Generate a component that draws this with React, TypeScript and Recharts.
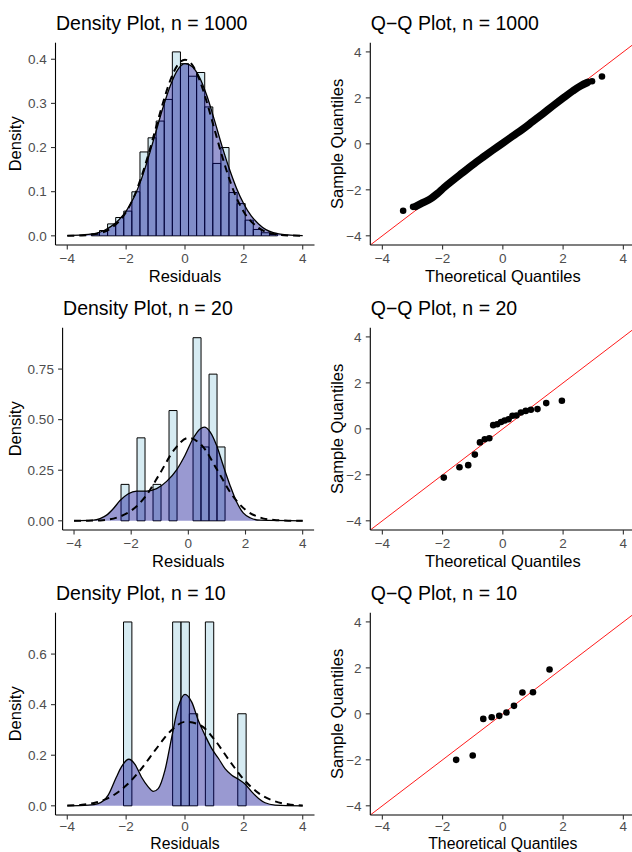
import React from 'react';
import { ComposedChart, XAxis, YAxis, Area, Line, Scatter, ReferenceArea, Label } from 'recharts';

const FONT = '"Liberation Sans", Arial, Helvetica, sans-serif';

// ---------- n = 1000 ----------
const hist1000Edges = [-3.18, -2.905, -2.63, -2.355, -2.08, -1.805, -1.53, -1.255, -0.98, -0.705, -0.43, -0.155, 0.12, 0.395, 0.67, 0.945, 1.22, 1.495, 1.77, 2.045, 2.32, 2.595, 2.87, 3.145];
const hist1000Density = [0.004, 0.012, 0.027, 0.0415, 0.056, 0.0997, 0.19, 0.222, 0.26, 0.309, 0.4167, 0.39, 0.3616, 0.37, 0.292, 0.164, 0.2, 0.098, 0.073, 0.0355, 0.0144, 0.0069, 0.003];
const kde1000X = [-4, -3.5, -3, -2.75, -2.5, -2.25, -2, -1.75, -1.5, -1.25, -1, -0.75, -0.5, -0.25, 0, 0.25, 0.5, 0.75, 1, 1.25, 1.5, 1.75, 2, 2.25, 2.5, 2.75, 3, 3.5, 4];
const kde1000Y = [0.0005, 0.002, 0.006, 0.012, 0.022, 0.036, 0.056, 0.085, 0.125, 0.176, 0.233, 0.29, 0.34, 0.376, 0.39, 0.383, 0.358, 0.316, 0.262, 0.205, 0.153, 0.108, 0.072, 0.045, 0.027, 0.014, 0.007, 0.002, 0.0005];
const norm1000X = [-4, -3.5, -3, -2.5, -2, -1.75, -1.5, -1.25, -1, -0.75, -0.5, -0.25, 0, 0.25, 0.5, 0.75, 1, 1.25, 1.5, 1.75, 2, 2.5, 3, 3.5, 4];
const norm1000Y = [0.0001, 0.0009, 0.0044, 0.018, 0.054, 0.086, 0.13, 0.183, 0.242, 0.301, 0.352, 0.387, 0.399, 0.387, 0.352, 0.301, 0.242, 0.183, 0.13, 0.086, 0.054, 0.018, 0.0044, 0.0009, 0.0001];
const qq1000BandTheo = [-2.89, -2.67, -2.39, -2.17, -1.95, -1.67, -1.34, -1.01, -0.68, -0.34, 0, 0.32, 0.65, 0.99, 1.32, 1.65, 1.98, 2.32, 2.59, 2.81];
const qq1000BandSample = [-2.72, -2.57, -2.38, -2.16, -1.9, -1.6, -1.26, -0.92, -0.6, -0.28, 0.03, 0.33, 0.63, 0.97, 1.3, 1.64, 1.97, 2.3, 2.53, 2.67];
const qq1000DotTheo = [-3.31, -2.98, 2.96, 3.29];
const qq1000DotSample = [-2.91, -2.74, 2.72, 2.93];

// ---------- n = 20 ----------
const hist20Left = [-2.356, -1.796, -1.236, -0.676, 0.164, 0.444, 0.724, 1.004];
const hist20Right = [-2.076, -1.516, -0.956, -0.396, 0.444, 0.724, 1.004, 1.284];
const hist20Density = [0.18, 0.41, 0.18, 0.545, 0.905, 0.365, 0.725, 0.365];
const kde20X = [-4, -3.32, -3.09, -2.86, -2.62, -2.39, -2.1, -1.81, -1.46, -1.11, -0.76, -0.41, -0.12, 0.17, 0.41, 0.56, 0.76, 0.99, 1.22, 1.46, 1.69, 1.92, 2.16, 2.51, 4];
const kde20Y = [0, 0.003, 0.011, 0.028, 0.061, 0.1, 0.134, 0.147, 0.147, 0.159, 0.195, 0.252, 0.323, 0.408, 0.454, 0.463, 0.44, 0.372, 0.273, 0.175, 0.093, 0.039, 0.015, 0.003, 0];
const norm20X = [-4, -3.5, -3, -2.5, -2, -1.5, -1, -0.5, 0, 0.5, 1, 1.5, 2, 2.5, 3, 3.5, 4];
const norm20Y = [0.0001, 0.0006, 0.003, 0.016, 0.05, 0.12, 0.233, 0.35, 0.41, 0.368, 0.254, 0.134, 0.054, 0.017, 0.004, 0.0008, 0.0001];
const qq20Theo = [-1.96, -1.44, -1.15, -0.93, -0.76, -0.6, -0.45, -0.32, -0.19, -0.06, 0.06, 0.19, 0.32, 0.45, 0.6, 0.76, 0.93, 1.15, 1.44, 1.96];
const qq20Sample = [-2.12, -1.67, -1.58, -1.12, -0.59, -0.45, -0.41, 0.16, 0.2, 0.3, 0.36, 0.42, 0.57, 0.58, 0.71, 0.78, 0.83, 0.86, 1.12, 1.22];

// ---------- n = 10 ----------
const hist10Left = [-2.089, -0.42, -0.136, 0.148, 0.692, 1.793];
const hist10Right = [-1.805, -0.136, 0.148, 0.431, 0.976, 2.077];
const hist10Density = [0.727, 0.727, 0.727, 0.364, 0.727, 0.364];
const kde10X = [-4, -3.29, -2.95, -2.61, -2.33, -2.16, -1.91, -1.7, -1.48, -1.25, -1.08, -0.91, -0.68, -0.45, -0.23, 0, 0.23, 0.45, 0.68, 0.91, 1.14, 1.36, 1.59, 1.82, 2.04, 2.27, 2.5, 2.72, 3.06, 4];
const kde10Y = [0, 0.003, 0.009, 0.042, 0.114, 0.154, 0.184, 0.164, 0.114, 0.075, 0.057, 0.068, 0.141, 0.272, 0.391, 0.441, 0.41, 0.338, 0.279, 0.226, 0.187, 0.147, 0.121, 0.105, 0.086, 0.055, 0.029, 0.012, 0.003, 0];
const norm10X = [-4, -3.5, -3, -2.5, -2, -1.5, -1, -0.5, 0, 0.5, 1, 1.5, 2, 2.5, 3, 3.5, 4];
const norm10Y = [0.001, 0.004, 0.014, 0.037, 0.08, 0.144, 0.222, 0.294, 0.332, 0.32, 0.262, 0.18, 0.104, 0.05, 0.02, 0.006, 0.001];
const qq10Theo = [-1.55, -1.0, -0.65, -0.37, -0.12, 0.12, 0.37, 0.65, 1.0, 1.55];
const qq10Sample = [-2.0, -1.81, -0.22, -0.145, -0.087, 0.058, 0.348, 0.928, 0.942, 1.93];

const X_TICKS = [-4, -2, 0, 2, 4];
const QQ_TICKS = [-4, -2, 0, 2, 4];

const zip = (xs: number[], ys: number[]) => xs.map((x, i) => ({ x, y: ys[i] }));
const binsFrom = (l: number[], r: number[], d: number[]) => l.map((x0, i) => ({ x0, x1: r[i], d: d[i], x: (x0 + r[i]) / 2 }));

const densityPanels = [
  {
    title: 'Density Plot, n = 1000',
    bins: binsFrom(hist1000Edges.slice(0, -1), hist1000Edges.slice(1), hist1000Density),
    kde: zip(kde1000X, kde1000Y),
    norm: zip(norm1000X, norm1000Y),
    yDomain: [-0.0208, 0.4375],
    yTicks: [0, 0.1, 0.2, 0.3, 0.4],
    digits: 1,
    plotLeft: 55.5,
    plotRight: 314.5,
  },
  {
    title: 'Density Plot, n = 20',
    bins: binsFrom(hist20Left, hist20Right, hist20Density),
    kde: zip(kde20X, kde20Y),
    norm: zip(norm20X, norm20Y),
    yDomain: [-0.04545, 0.9545],
    yTicks: [0, 0.25, 0.5, 0.75],
    digits: 2,
    plotLeft: 62.6,
    plotRight: 314.1,
  },
  {
    title: 'Density Plot, n = 10',
    bins: binsFrom(hist10Left, hist10Right, hist10Density),
    kde: zip(kde10X, kde10Y),
    norm: zip(norm10X, norm10Y),
    yDomain: [-0.03636, 0.7636],
    yTicks: [0, 0.2, 0.4, 0.6],
    digits: 1,
    plotLeft: 55.5,
    plotRight: 314.5,
  },
];

const qqPanels = [
  { title: 'Q\u2212Q Plot, n = 1000', band: zip(qq1000BandTheo, qq1000BandSample), dots: zip(qq1000DotTheo, qq1000DotSample) },
  { title: 'Q\u2212Q Plot, n = 20', band: null, dots: zip(qq20Theo, qq20Sample) },
  { title: 'Q\u2212Q Plot, n = 10', band: null, dots: zip(qq10Theo, qq10Sample) },
];
const refLine = zip([-4.4, 4.4], [-4.4, 4.4]);

const ROW_H = 285;
const PLOT_TOP = 42.7;
const PLOT_BOTTOM = 245;
// per-row x-axis settings (bottom row is squeezed against the page edge)
const ROW_X = [
  { labelOffset: 3.3, tickMargin: 4.2, titleSize: 16.5 },
  { labelOffset: 3.3, tickMargin: 4.2, titleSize: 16.5 },
  { labelOffset: 6.4, tickMargin: 2.3, titleSize: 15.8 },
];
const TICK_STYLE = { fill: '#4D4D4D', fontSize: 13.5, fontFamily: FONT };
const AXIS_TITLE = { fontSize: 16.5, fill: '#000', fontFamily: FONT };
const minus = (v: number) => (v < 0 ? '\u2212' + Math.abs(v) : String(v));

function Title({ text, x }: { text: string; x: number }) {
  return (
    <svg width={316} height={40} style={{ position: 'absolute', left: 0, top: 0 }}>
      <text x={x} y={30} fontSize={19.5} fontFamily={FONT} fill="#000">{text}</text>
    </svg>
  );
}

function DensityPanel({ cfg, top, rx }: any) {
  const W = 316;
  const H = ROW_H;
  const margin = { top: PLOT_TOP, right: W - cfg.plotRight, bottom: 0, left: 0 };
  return (
    <div style={{ position: 'absolute', left: 0, top, width: W, height: H }}>
      <div style={{ position: 'absolute', left: 0, top: 0 }}>
        <ComposedChart width={W} height={H} margin={margin} data={cfg.bins}>
          <XAxis type="number" dataKey="x" domain={[-4.4, 4.4]} allowDataOverflow height={H - PLOT_BOTTOM} axisLine={false} tickLine={false} tick={false} />
          <YAxis type="number" domain={cfg.yDomain} allowDataOverflow width={cfg.plotLeft} axisLine={false} tickLine={false} tick={false} />
          {cfg.bins.map((b: any, i: number) => (
            <ReferenceArea key={i} x1={b.x0} x2={b.x1} y1={0} y2={b.d} fill="#ADD8E6" fillOpacity={0.5} stroke="#000" strokeWidth={1} strokeOpacity={1} ifOverflow="visible" />
          ))}
        </ComposedChart>
      </div>
      <div style={{ position: 'absolute', left: 0, top: 0 }}>
        <ComposedChart width={W} height={H} margin={margin}>
          <XAxis type="number" dataKey="x" domain={[-4.4, 4.4]} ticks={X_TICKS} interval={0} allowDataOverflow height={H - PLOT_BOTTOM}
            tickFormatter={minus} tick={TICK_STYLE} tickSize={4.5} tickMargin={rx.tickMargin}
            axisLine={{ stroke: '#000', strokeWidth: 1.1 }} tickLine={{ stroke: '#333', strokeWidth: 1.1 }}>
            <Label value="Residuals" position="insideBottom" offset={rx.labelOffset} style={{ ...AXIS_TITLE, fontSize: rx.titleSize }} />
          </XAxis>
          <YAxis type="number" domain={cfg.yDomain} ticks={cfg.yTicks} interval={0} allowDataOverflow width={cfg.plotLeft}
            tickFormatter={(v: number) => v.toFixed(cfg.digits)} tick={TICK_STYLE} tickSize={4.5} tickMargin={4.2}
            axisLine={{ stroke: '#000', strokeWidth: 1.1 }} tickLine={{ stroke: '#333', strokeWidth: 1.1 }}>
            <Label value="Density" position="insideLeft" angle={-90} offset={15.3} style={{ ...AXIS_TITLE, textAnchor: 'middle' }} />
          </YAxis>
          <Area data={cfg.kde} dataKey="y" type="monotone" baseValue={0} stroke="#000" strokeWidth={1.3} fill="#00008B" fillOpacity={0.4} dot={false} activeDot={false} isAnimationActive={false} />
          <Line data={cfg.norm} dataKey="y" type="monotone" stroke="#000" strokeWidth={2} strokeDasharray="7 5" dot={false} activeDot={false} isAnimationActive={false} />
        </ComposedChart>
      </div>
      <Title text={cfg.title} x={cfg.plotLeft + 0.5} />
    </div>
  );
}

const dotShape = (p: any) => <circle cx={p.cx} cy={p.cy} r={3.3} fill="#000" />;

function QQPanel({ cfg, top, rx }: any) {
  const W = 320;
  const H = ROW_H;
  const plotLeft = 54.3;
  const margin = { top: PLOT_TOP, right: 0.6, bottom: 0, left: 0 };
  return (
    <div style={{ position: 'absolute', left: 316, top, width: W, height: H }}>
      <ComposedChart width={W} height={H} margin={margin}>
        <XAxis type="number" dataKey="x" domain={[-4.4, 4.4]} ticks={QQ_TICKS} interval={0} allowDataOverflow height={H - PLOT_BOTTOM}
          tickFormatter={minus} tick={TICK_STYLE} tickSize={4.5} tickMargin={rx.tickMargin}
          axisLine={{ stroke: '#000', strokeWidth: 1.1 }} tickLine={{ stroke: '#333', strokeWidth: 1.1 }}>
          <Label value="Theoretical Quantiles" position="insideBottom" offset={rx.labelOffset} style={{ ...AXIS_TITLE, fontSize: rx.titleSize }} />
        </XAxis>
        <YAxis type="number" dataKey="y" domain={[-4.4, 4.4]} ticks={QQ_TICKS} interval={0} allowDataOverflow width={plotLeft}
          tickFormatter={minus} tick={TICK_STYLE} tickSize={4.5} tickMargin={4.2}
          axisLine={{ stroke: '#000', strokeWidth: 1.1 }} tickLine={{ stroke: '#333', strokeWidth: 1.1 }}>
          <Label value="Sample Quantiles" position="insideLeft" angle={-90} offset={21.2} style={{ ...AXIS_TITLE, textAnchor: 'middle' }} />
        </YAxis>
        <Line data={refLine} dataKey="y" type="linear" stroke="#FF0000" strokeWidth={0.9} dot={false} activeDot={false} isAnimationActive={false} />
        {cfg.band && (
          <Line data={cfg.band} dataKey="y" type="monotone" stroke="#000" strokeWidth={7.5} strokeLinecap="round" strokeLinejoin="round" dot={false} activeDot={false} isAnimationActive={false} />
        )}
        <Scatter data={cfg.dots} dataKey="y" fill="#000" shape={dotShape} isAnimationActive={false} />
      </ComposedChart>
      <Title text={cfg.title} x={plotLeft + 0.5} />
    </div>
  );
}

export default function App() {
  return (
    <div style={{ position: 'absolute', left: 0, top: 0, width: 632, height: 852, overflow: 'hidden', background: '#fff', fontFamily: FONT }}>
      {densityPanels.map((cfg, i) => (
        <DensityPanel key={'d' + i} cfg={cfg} top={i * ROW_H} rx={ROW_X[i]} />
      ))}
      {qqPanels.map((cfg, i) => (
        <QQPanel key={'q' + i} cfg={cfg} top={i * ROW_H} rx={ROW_X[i]} />
      ))}
    </div>
  );
}
